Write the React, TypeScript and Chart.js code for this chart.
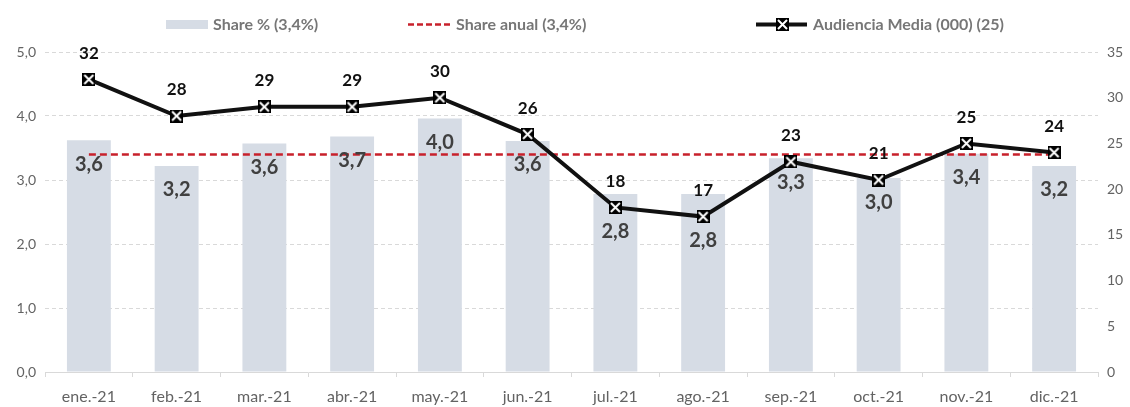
import React, { useEffect, useRef } from "react";
import { Chart, registerables } from "chart.js";

Chart.register(...registerables);

const categories = [
  "ene.-21", "feb.-21", "mar.-21", "abr.-21", "may.-21", "jun.-21",
  "jul.-21", "ago.-21", "sep.-21", "oct.-21", "nov.-21", "dic.-21",
];
const shareValues = [3.62, 3.22, 3.57, 3.68, 3.96, 3.61, 2.78, 2.78, 3.34, 3.03, 3.41, 3.22];
const shareAnual = 3.4;
const audiencia = [32, 28, 29, 29, 30, 26, 18, 17, 23, 21, 25, 24];
const legendLabels = ["Share % (3,4%)", "Share anual (3,4%)", "Audiencia Media (000) (25)"];

const FONT = "Lato, 'Open Sans', sans-serif";
const BAR_COLOR = "#d6dce5";
const RED = "#c8202b";
const TICK_COLOR = "#636363";

const fmt1 = (v: number) => v.toFixed(1).replace(".", ",");

function makeMarker(): HTMLCanvasElement {
  const c = document.createElement("canvas");
  c.width = 13;
  c.height = 13;
  const g = c.getContext("2d")!;
  g.fillStyle = "#000";
  g.fillRect(0, 0, 13, 13);
  g.strokeStyle = "#fff";
  g.lineWidth = 2;
  g.beginPath();
  g.moveTo(2, 2);
  g.lineTo(11, 11);
  g.moveTo(11, 2);
  g.lineTo(2, 11);
  g.stroke();
  return c;
}

const labelsPlugin = {
  id: "customLabels",
  afterDatasetsDraw(chart: any) {
    const ctx = chart.ctx;
    const barMeta = chart.getDatasetMeta(0);
    const lineMeta = chart.getDatasetMeta(2);
    ctx.save();
    ctx.textAlign = "center";
    ctx.textBaseline = "middle";
    ctx.font = `bold 20px ${FONT}`;
    ctx.fillStyle = "#404040";
    barMeta.data.forEach((bar: any, i: number) => {
      const top = bar.y;
      const pt = lineMeta.data[i];
      let y = top + 24;
      if (pt.y > top + 10) y = pt.y + 24;
      ctx.fillText(fmt1(shareValues[i]), bar.x, y);
    });
    ctx.font = `bold 17px ${FONT}`;
    ctx.fillStyle = "#111";
    lineMeta.data.forEach((pt: any, i: number) => {
      ctx.fillText(String(audiencia[i]), pt.x, pt.y - 26);
    });
    ctx.restore();
  },
  afterDraw(chart: any) {
    const ctx = chart.ctx;
    ctx.save();
    ctx.font = `bold 16px ${FONT}`;
    ctx.textBaseline = "middle";
    ctx.textAlign = "left";
    const cy = 25;
    ctx.fillStyle = BAR_COLOR;
    ctx.fillRect(166, 20, 42, 9);
    ctx.fillStyle = "#767676";
    ctx.fillText(legendLabels[0], 213, cy);
    ctx.strokeStyle = RED;
    ctx.lineWidth = 2.5;
    ctx.setLineDash([6, 3]);
    ctx.beginPath();
    ctx.moveTo(408, 24.5);
    ctx.lineTo(452, 24.5);
    ctx.stroke();
    ctx.setLineDash([]);
    ctx.fillText(legendLabels[1], 456, cy);
    ctx.strokeStyle = "#111";
    ctx.lineWidth = 4;
    ctx.beginPath();
    ctx.moveTo(756, 24.5);
    ctx.lineTo(807, 24.5);
    ctx.stroke();
    ctx.drawImage(makeMarker(), 776, 18);
    ctx.fillText(legendLabels[2], 813, cy);
    ctx.restore();
  },
};

export default function App() {
  const ref = useRef<HTMLCanvasElement>(null);
  useEffect(() => {
    document.body.style.margin = "0";
    const marker = makeMarker();
    const chart = new Chart(ref.current!, {
      type: "bar",
      data: {
        labels: categories,
        datasets: [
          {
            type: "bar",
            label: legendLabels[0],
            data: shareValues,
            backgroundColor: BAR_COLOR,
            yAxisID: "y",
            barPercentage: 0.5,
            categoryPercentage: 1,
            order: 2,
          },
          {
            type: "line",
            label: legendLabels[1],
            data: categories.map(() => shareAnual),
            borderColor: RED,
            borderWidth: 2.5,
            borderDash: [7, 4],
            pointRadius: 0,
            yAxisID: "y",
            order: 1,
          },
          {
            type: "line",
            label: legendLabels[2],
            data: audiencia,
            borderColor: "#111",
            borderWidth: 4,
            pointStyle: marker as any,
            pointRadius: 7,
            yAxisID: "y1",
            order: 0,
          },
        ] as any,
      },
      options: {
        animation: false,
        responsive: true,
        maintainAspectRatio: false,
        layout: { padding: { top: 52, left: 0, right: 0, bottom: 0 } },
        plugins: {
          legend: { display: false },
          tooltip: { enabled: false },
        },
        scales: {
          x: {
            grid: {
              display: true,
              drawOnChartArea: false,
              drawTicks: true,
              tickLength: 5,
              color: "#d9d9d9",
              offset: true,
            },
            border: { color: "#d9d9d9", width: 1 },
            ticks: {
              color: TICK_COLOR,
              font: { family: FONT, size: 16 },
              padding: 10,
              autoSkip: false,
              maxRotation: 0,
            },
            afterFit: (s: any) => { s.height = 35; },
          },
          y: {
            position: "left",
            min: 0,
            max: 5,
            ticks: {
              stepSize: 1,
              color: TICK_COLOR,
              font: { family: FONT, size: 14 },
              padding: 9,
              callback: (v: any) => fmt1(Number(v)),
            },
            grid: { color: "#d9d9d9", drawTicks: false, lineWidth: 1 },
            border: { display: false, dash: [4, 3] },
            afterFit: (s: any) => { s.width = 45; },
          },
          y1: {
            position: "right",
            min: 0,
            max: 35,
            ticks: {
              stepSize: 5,
              color: TICK_COLOR,
              font: { family: FONT, size: 14 },
              padding: 9,
            },
            grid: { display: false, drawTicks: false },
            border: { display: false },
            afterFit: (s: any) => { s.width = 32; },
          },
        },
      } as any,
      plugins: [labelsPlugin],
    });
    return () => chart.destroy();
  }, []);
  return (
    <div style={{ position: "absolute", left: 0, top: 0, width: 1130, height: 407 }}>
      <canvas ref={ref} />
    </div>
  );
}
